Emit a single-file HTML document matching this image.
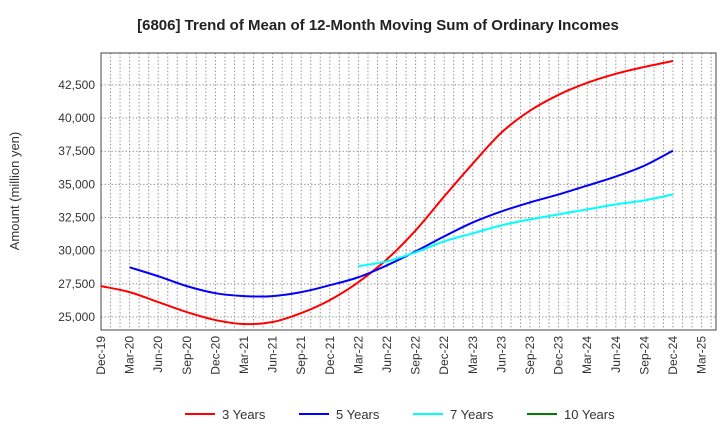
<!DOCTYPE html>
<html><head><meta charset="utf-8"><style>
body{margin:0;background:#fff;font-family:"Liberation Sans",Arial,sans-serif}
svg text{font-family:"Liberation Sans",Arial,sans-serif}
</style></head><body>
<svg id="chart" width="720" height="440" viewBox="0 0 720 440">
<text x="378" y="30" text-anchor="middle" font-size="15" font-weight="bold" fill="#222">[6806]  Trend of Mean of 12-Month Moving Sum of Ordinary Incomes</text>
<text transform="translate(19,191) rotate(-90)" text-anchor="middle" font-size="13" fill="#333">Amount (million yen)</text>
<g id="grid"></g><g id="axes"></g><g id="series"></g><g id="legend"></g>
</svg>
<script>
const xLabels=["Dec-19","Mar-20","Jun-20","Sep-20","Dec-20","Mar-21","Jun-21","Sep-21","Dec-21","Mar-22","Jun-22","Sep-22","Dec-22","Mar-23","Jun-23","Sep-23","Dec-23","Mar-24","Jun-24","Sep-24","Dec-24","Mar-25"];
const yTicks=[25000,27500,30000,32500,35000,37500,40000,42500];
const s3=[27330,26880,26130,25375,24775,24475,24625,25300,26280,27630,29360,31530,34090,36570,38900,40550,41750,42650,43330,43850,44300];
const s3Start=0;
const s5=[28750,28080,27330,26800,26580,26580,26880,27400,28000,28900,29950,31080,32130,32960,33640,34240,34910,35590,36410,37540];
const s5Start=1;
const s7=[28830,29200,29880,30710,31310,31910,32360,32740,33110,33490,33790,34240];
const s7Start=9;
const s10=[];
const seriesNames=["3 Years","5 Years","7 Years","10 Years"];
const colors=["#ff0000","#0000ff","#00ffff","#008000"];

const L=101,R=716,T=53,B=330;
const yMin=24025,yMax=44900;
const qW=28.6;
const xs=i=>L+qW*i;
const ys=v=>B-(v-yMin)/(yMax-yMin)*(B-T);
const NS="http://www.w3.org/2000/svg";
function mk(tag,attrs,parent){const e=document.createElementNS(NS,tag);for(const k in attrs)e.setAttribute(k,attrs[k]);parent.appendChild(e);return e;}
const grid=document.getElementById('grid'),axes=document.getElementById('axes'),ser=document.getElementById('series'),leg=document.getElementById('legend');
for(let m=1;L+m*qW/3<R;m++){const x=L+m*qW/3;
const g=mk('line',{x1:x,x2:x,y1:T,y2:B,stroke:'#999','stroke-dasharray':'1.5,2','stroke-width':1},grid);

}
yTicks.forEach(v=>{const y=ys(v);
const g=mk('line',{x1:L,x2:R,y1:y,y2:y,stroke:'#999','stroke-dasharray':'1.5,2','stroke-width':1},grid);


const t=mk('text',{x:L-6,y:y+4,'text-anchor':'end','font-size':12,fill:'#333'},axes);t.textContent=v.toLocaleString('en-US');

});
const fr=mk('rect',{x:L,y:T,width:R-L,height:B-T,fill:'none',stroke:'#444','stroke-width':1},axes);


xLabels.forEach((lab,i)=>{const x=xs(i);
const t=mk('text',{transform:`translate(${x+4},${B+6}) rotate(-90)`,'text-anchor':'end','font-size':12,fill:'#333'},axes);t.textContent=lab;

});
function path(data,start){const p=data.map((v,i)=>[xs(start+i),ys(v)]);if(p.length<2)return '';
let d=`M${p[0][0]},${p[0][1]}`;
for(let i=0;i<p.length-1;i++){const p0=p[Math.max(i-1,0)],p1=p[i],p2=p[i+1],p3=p[Math.min(i+2,p.length-1)];
d+=` C${p1[0]+(p2[0]-p0[0])/6},${p1[1]+(p2[1]-p0[1])/6} ${p2[0]-(p3[0]-p1[0])/6},${p2[1]-(p3[1]-p1[1])/6} ${p2[0]},${p2[1]}`;}
return d;}
[[s3,s3Start],[s5,s5Start],[s7,s7Start],[s10,0]].forEach(([d,s],k)=>{if(!d.length)return;
const e=mk('path',{d:path(d,s),fill:'none',stroke:colors[k],'stroke-width':2},ser);

});
const lx=[185,299,413,527];
seriesNames.forEach((n,k)=>{
const g=mk('g',{},leg);


mk('line',{x1:lx[k],x2:lx[k]+30,y1:414,y2:414,stroke:colors[k],'stroke-width':2},g);
const t=mk('text',{x:lx[k]+37,y:419,'font-size':13,fill:'#333'},g);t.textContent=n;});
</script>
</body></html>
